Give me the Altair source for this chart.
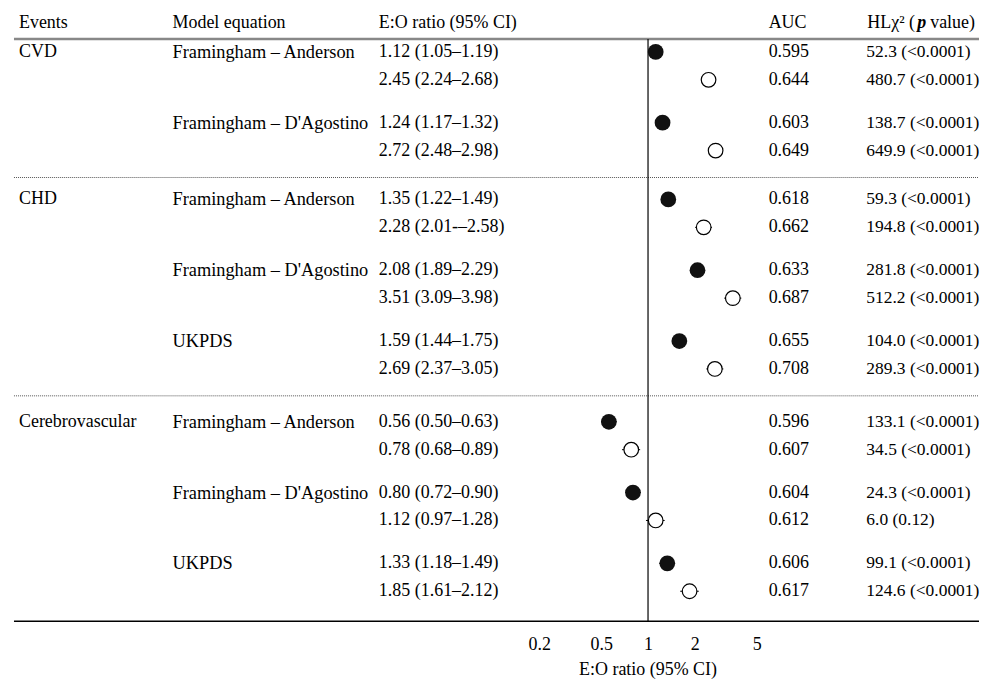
import altair as alt
import pandas as pd
import numpy as np

# ---------------- data ----------------
events = ["CVD", "CHD", "Cerebrovascular"]
models_per_event = [
    ["Framingham – Anderson", "Framingham – D'Agostino"],
    ["Framingham – Anderson", "Framingham – D'Agostino", "UKPDS"],
    ["Framingham – Anderson", "Framingham – D'Agostino", "UKPDS"],
]
eo = [1.12, 2.45, 1.24, 2.72, 1.35, 2.28, 2.08, 3.51, 1.59, 2.69,
      0.56, 0.78, 0.80, 1.12, 1.33, 1.85]
eo_lo = [1.05, 2.24, 1.17, 2.48, 1.22, 2.01, 1.89, 3.09, 1.44, 2.37,
         0.50, 0.68, 0.72, 0.97, 1.18, 1.61]
eo_hi = [1.19, 2.68, 1.32, 2.98, 1.49, 2.58, 2.29, 3.98, 1.75, 3.05,
         0.63, 0.89, 0.90, 1.28, 1.49, 2.12]
ci_labels = ["1.12 (1.05–1.19)", "2.45 (2.24–2.68)", "1.24 (1.17–1.32)", "2.72 (2.48–2.98)",
             "1.35 (1.22–1.49)", "2.28 (2.01-–2.58)", "2.08 (1.89–2.29)", "3.51 (3.09–3.98)",
             "1.59 (1.44–1.75)", "2.69 (2.37–3.05)", "0.56 (0.50–0.63)", "0.78 (0.68–0.89)",
             "0.80 (0.72–0.90)", "1.12 (0.97–1.28)", "1.33 (1.18–1.49)", "1.85 (1.61–2.12)"]
auc = ["0.595", "0.644", "0.603", "0.649", "0.618", "0.662", "0.633", "0.687",
       "0.655", "0.708", "0.596", "0.607", "0.604", "0.612", "0.606", "0.617"]
hl = ["52.3 (<0.0001)", "480.7 (<0.0001)", "138.7 (<0.0001)", "649.9 (<0.0001)",
      "59.3 (<0.0001)", "194.8 (<0.0001)", "281.8 (<0.0001)", "512.2 (<0.0001)",
      "104.0 (<0.0001)", "289.3 (<0.0001)", "133.1 (<0.0001)", "34.5 (<0.0001)",
      "24.3 (<0.0001)", "6.0 (0.12)", "99.1 (<0.0001)", "124.6 (<0.0001)"]
headers = ["Events", "Model equation", "E:O ratio (95% CI)", "AUC"]
hl_header = ["HLχ² (", "p", "value)"]
tick_values = [0.2, 0.5, 1, 2, 5]
axis_title = "E:O ratio (95% CI)"

# ---------------- layout ----------------
FONT = "Liberation Serif"
FS = 18
FS_MODEL = 18.4
FS_HL = 17.5
FSH = 18
W = 968              # plot width  (page x 12 .. 980)
TOP, BOTTOM = 8, 622  # page y of plot top / bottom line
H = BOTTOM - TOP
group_top = [51, 199, 422]
PAIR, STEP = 71, 28
sep_y = [177, 396]
header_y = 22
header_rule_y = 38
X_ONE = 636          # plot x of ratio 1
PX_DEC = 156         # pixels per decade
col_x = [5, 159, 366, 757]
hl_x = [856, 906, 919]
hl_col_x = 855

rows = []
k = 0
for g, ev in enumerate(events):
    for p, m in enumerate(models_per_event[g]):
        for i in range(2):
            rows.append(dict(
                y=group_top[g] + p * PAIR + i * STEP,
                event=ev if (p == 0 and i == 0) else "",
                model=m if i == 0 else "",
                kind=i,
                eo=eo[k], lo=eo_lo[k], hi=eo_hi[k],
                ci=ci_labels[k], auc=auc[k], hl=hl[k]))
            k += 1
df = pd.DataFrame(rows)

xdom = [10 ** (-X_ONE / PX_DEC), 10 ** ((W - X_ONE) / PX_DEC)]
xscale = alt.Scale(type="log", domain=xdom, nice=False, zero=False)
yscale = alt.Scale(domain=[TOP, BOTTOM], reverse=True, nice=False, zero=False)
Y = alt.Y("y:Q", scale=yscale, axis=None)

base = alt.Chart(df)

def text_layer(field, x, size, filt=None):
    c = base.mark_text(align="left", baseline="middle", font=FONT, fontSize=size, color="black")
    if filt is not None:
        c = c.transform_filter(filt)
    return c.encode(x=alt.value(x), y=Y, text=f"{field}:N")

layers = []

# header texts
for txt, x in zip(headers, col_x):
    layers.append(alt.Chart(pd.DataFrame({"t": [txt], "y": [header_y]})).mark_text(
        align="left", baseline="middle", font=FONT, fontSize=FSH, color="black"
    ).encode(x=alt.value(x), y=Y, text="t:N"))
for j, (txt, x) in enumerate(zip(hl_header, hl_x)):
    kw = dict(fontStyle="italic", fontWeight="bold") if j == 1 else {}
    layers.append(alt.Chart(pd.DataFrame({"t": [txt], "y": [header_y]})).mark_text(
        align="left", baseline="middle", font=FONT, fontSize=FSH, color="black", **kw
    ).encode(x=alt.value(x), y=Y, text="t:N"))

# horizontal rules
layers.append(alt.Chart(pd.DataFrame({"y": [header_rule_y]})).mark_rule(
    color="#888888", strokeWidth=2.5).encode(x=alt.value(0), x2=alt.value(W), y=Y))
layers.append(alt.Chart(pd.DataFrame({"y": sep_y})).mark_rule(
    color="#555555", strokeWidth=1, strokeDash=[1, 1]).encode(x=alt.value(0), x2=alt.value(W), y=Y))
layers.append(alt.Chart(pd.DataFrame({"y": [BOTTOM]})).mark_rule(
    color="black", strokeWidth=1.5).encode(x=alt.value(0), x2=alt.value(W), y=Y))

# vertical reference line at 1
layers.append(alt.Chart(pd.DataFrame({"v": [1.0], "y0": [header_rule_y], "y1": [BOTTOM]})).mark_rule(
    color="black", strokeWidth=1.2).encode(
    x=alt.X("v:Q", scale=xscale,
            axis=alt.Axis(values=tick_values, format="~g", domain=False, ticks=False, grid=False,
                          title=None, labelFont=FONT, labelFontSize=FS, labelColor="black",
                          labelPadding=14)),
    y=alt.Y("y0:Q", scale=yscale, axis=None), y2="y1:Q"))

# table text columns
layers.append(text_layer("event", col_x[0], FS, alt.datum.event != ""))
layers.append(text_layer("model", col_x[1], FS_MODEL, alt.datum.model != ""))
layers.append(text_layer("ci", col_x[2], FS))
layers.append(text_layer("auc", col_x[3], FS))
layers.append(text_layer("hl", hl_col_x, FS_HL))

# confidence intervals + points
X = alt.X("eo:Q", scale=xscale)
layers.append(base.mark_rule(color="black", strokeWidth=1).encode(
    x=alt.X("lo:Q", scale=xscale), x2="hi:Q", y=Y))
layers.append(base.transform_filter(alt.datum.kind == 0).mark_point(
    shape="circle", filled=True, color="#111111", size=250, opacity=1).encode(x=X, y=Y))
layers.append(base.transform_filter(alt.datum.kind == 1).mark_point(
    shape="circle", filled=True, fill="white", stroke="black", strokeWidth=1.2,
    size=215, opacity=1).encode(x=X, y=Y))

# axis title centred on ratio 1
layers.append(alt.Chart(pd.DataFrame({"v": [1.0], "t": [axis_title], "y": [671]})).mark_text(
    align="center", baseline="middle", font=FONT, fontSize=FSH, color="black").encode(
    x=alt.X("v:Q", scale=xscale), y=Y, text="t:N"))

chart = alt.layer(*layers).properties(
    width=W, height=H,
    padding={"left": 4, "top": 0, "right": 0, "bottom": 0},
).configure_view(stroke=None)

chart.save("out.html", embed_options={"renderer": "svg", "actions": False})
